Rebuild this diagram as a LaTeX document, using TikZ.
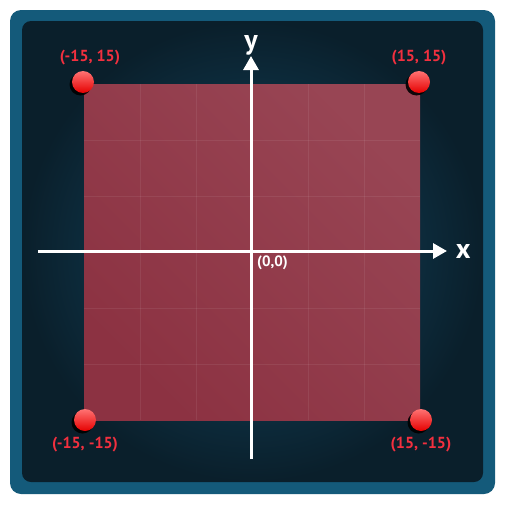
\documentclass[tikz,border=0pt]{standalone}
\usepackage{fontspec}
\setmainfont{PT Sans}
\usetikzlibrary{positioning,arrows.meta,shadows}
\definecolor{moldura}{HTML}{145A7A}
\definecolor{fundoescuro}{HTML}{0A1F2B}
\definecolor{fundoclaro}{HTML}{144A66}
\definecolor{quadclaro}{HTML}{A65C6D}
\definecolor{quadmedio}{HTML}{984554}
\definecolor{quadescuro}{HTML}{8C3242}
\definecolor{rotulo}{HTML}{F2303F}

\begin{document}
\begin{tikzpicture}[x=1pt, y=-1pt,
    ponto/.style={circle, inner sep=0pt, minimum size=22pt, top color=red!55!white, bottom color=red!90!black,
      drop shadow={shadow xshift=-2.5pt, shadow yshift=-2.5pt, fill=black, opacity=0.9}},
    rot/.style={text=rotulo, font=\fontsize{16}{18}\selectfont\bfseries, inner sep=1pt},
    eixo/.style={white, line width=3pt, -{Triangle[length=14pt, width=15pt]}}]
        \useasboundingbox (0,0) rectangle (506,506);

        % Moldura
        \fill[moldura, rounded corners=11pt] (10,10) rectangle (495,494);
        \shade[inner color=fundoclaro, outer color=fundoescuro, rounded corners=9pt] (22,21) rectangle (483,482);

        % Quadrado
        \shade[top color=quadmedio, middle color=quadclaro, bottom color=quadescuro, shading angle=-45] (84,84) rectangle (420,420);
        \foreach \k in {1,...,5} {
            \draw[white, opacity=0.07] (84+56*\k,84) -- (84+56*\k,420);
            \draw[white, opacity=0.07] (84,84+56*\k) -- (420,84+56*\k);
        }

        % Eixos
        \coordinate (xini) at (38,251);
        \coordinate (xfim) at (447,251);
        \coordinate (yini) at (251,459);
        \coordinate (yfim) at (251,56);
        \draw[eixo] (xini) -- (xfim) node[right=4pt, text=white, font=\fontsize{28}{28}\selectfont\bfseries] (lx) {x};
        \draw[eixo] (yini) -- (yfim) node[above=-4pt, text=white, font=\fontsize{28}{28}\selectfont\bfseries] (ly) {y};
        \node[text=white, font=\fontsize{15}{17}\selectfont\bfseries, anchor=north west, inner sep=1pt] (origem) at (256,255) {(0,0)};

        % Vertices
        \node[ponto] (pa) at (83,82) {};
        \node[ponto] (pb) at (419,82) {};
        \node[ponto] (pc) at (85,420) {};
        \node[ponto] (pd) at (421,420) {};
        \node[rot, above=5pt of pa, xshift=7pt] (ra) {(-15, 15)};
        \node[rot, above=5pt of pb] (rb) {(15, 15)};
        \node[rot, below=5pt of pc] (rc) {(-15, -15)};
        \node[rot, below=5pt of pd] (rd) {(15, -15)};
\end{tikzpicture}
\end{document}
